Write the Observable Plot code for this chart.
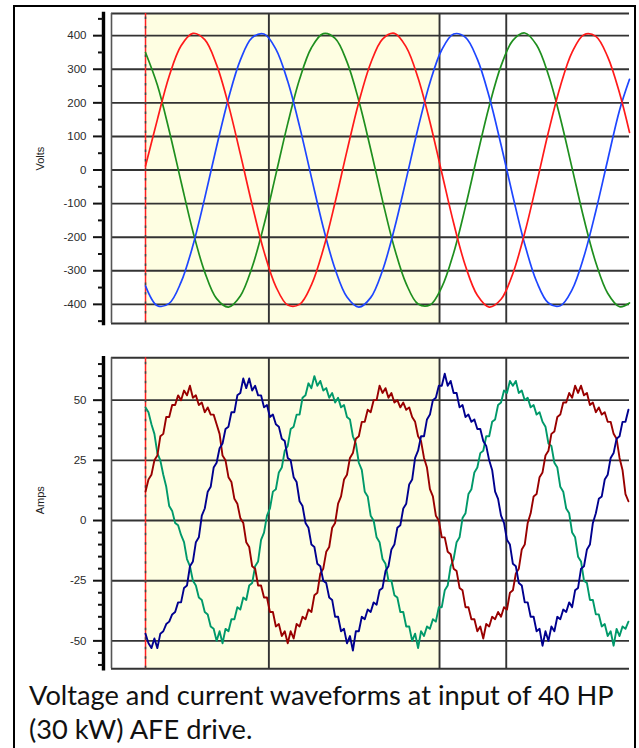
<!DOCTYPE html>
<html>
<head>
<meta charset="utf-8">
<script src="https://cdn.jsdelivr.net/npm/d3@7"></script>
<script src="https://cdn.jsdelivr.net/npm/@observablehq/plot@0.6"></script>
<style>
html, body { margin: 0; padding: 0; background: #fff; }
#wrap { position: relative; width: 639px; height: 748px; overflow: hidden; background: #fff; }
#border { position: absolute; left: 13px; top: 5px; width: 619px; height: 800px; border: 2px solid #000; }
#top { position: absolute; left: 0; top: 0; }
#bot { position: absolute; left: 0; top: 340px; }
#cap { position: absolute; left: 0; top: 670px; }
</style>
</head>
<body>
<div id="wrap">
  <div id="border"></div>
  <div id="top"></div>
  <div id="bot"></div>
  <svg id="cap" width="639" height="78"></svg>
</div>
<script>
// ---------- DATA ----------
// time in ms, 0 = cursor position
const xDomain = [-2.87, 40.84];
const shadedSpan = [0, 24.81];            // cream-coloured region
const cursorTime = [0];
const verticalGrid = [10.41, 24.81, 30.44];

// Voltage panel
const voltDomain = [-457, 466];
const voltMajorTicks = [-400, -300, -200, -100, 0, 100, 200, 300, 400];
const voltMinorTicks = [-450, -350, -250, -150, -50, 50, 150, 250, 350, 450];
const voltGrid = [-400, -300, -200, -100, 0, 100, 200, 300, 400];

const tV = [0,1,2,3,4,5,6,7,8,9,10,11,12,13,14,15,16,17,18,19,20,21,22,23,24,25,26,27,28,29,30,31,32,33,34,35,36,37,38,39,40,40.84];
const voltRed   = [12,150,280,370,407,388,313,194,48,-104,-243,-347,-402,-400,-342,-236,-96,57,202,318,390,407,366,274,143,-8,-158,-286,-373,-408,-385,-308,-187,-40,113,249,351,403,398,337,229,112];
const voltBlue  = [-345,-404,-397,-334,-225,-83,70,213,327,394,405,360,264,130,-22,-171,-295,-378,-408,-380,-299,-175,-27,125,260,358,405,395,330,218,75,-78,-221,-332,-396,-404,-356,-257,-122,30,178,270];
const voltGreen = [350,253,117,-35,-183,-304,-383,-408,-375,-289,-163,-13,138,270,364,406,392,322,206,62,-91,-232,-339,-399,-402,-349,-247,-109,44,190,310,386,408,372,283,155,5,-146,-276,-367,-407,-396];

// Current panel
const ampDomain = [-61.6, 67.6];
const ampMajorTicks = [-50, -25, 0, 25, 50];
const ampMinorTicks = [-60,-55,-45,-40,-35,-30,-20,-15,-10,-5,5,10,15,20,30,35,40,45,55,60,65];
const ampGrid = [-50, -25, 0, 25, 50];

const tI = [0,0.25,0.5,0.75,1,1.25,1.5,1.75,2,2.25,2.5,2.75,3,3.25,3.5,3.75,4,4.25,4.5,4.75,5,5.25,5.5,5.75,6,6.25,6.5,6.75,7,7.25,7.5,7.75,8,8.25,8.5,8.75,9,9.25,9.5,9.75,10,10.25,10.5,10.75,11,11.25,11.5,11.75,12,12.25,12.5,12.75,13,13.25,13.5,13.75,14,14.25,14.5,14.75,15,15.25,15.5,15.75,16,16.25,16.5,16.75,17,17.25,17.5,17.75,18,18.25,18.5,18.75,19,19.25,19.5,19.75,20,20.25,20.5,20.75,21,21.25,21.5,21.75,22,22.25,22.5,22.75,23,23.25,23.5,23.75,24,24.25,24.5,24.75,25,25.25,25.5,25.75,26,26.25,26.5,26.75,27,27.25,27.5,27.75,28,28.25,28.5,28.75,29,29.25,29.5,29.75,30,30.25,30.5,30.75,31,31.25,31.5,31.75,32,32.25,32.5,32.75,33,33.25,33.5,33.75,34,34.25,34.5,34.75,35,35.25,35.5,35.75,36,36.25,36.5,36.75,37,37.25,37.5,37.75,38,38.25,38.5,38.75,39,39.25,39.5,39.75,40,40.25,40.5,40.75];
const ampRed = [12,17,19,25, 27,35,36,43, 43,48,48,52, 50,54,52,56, 51,52,48,49, 45,47,44,44, 40,36,27,25, 18,16,9,7, 1,-1,-9,-11, -19,-20,-27,-27, -32,-32,-38,-38, -44,-43,-48,-46, -51,-46,-49,-43, -44,-40,-41,-37, -38,-31,-30,-22, -20,-13,-11,-3, -1,7,10,17, 19,26,28,34, 35,41,41,46, 45,50,50,56, 53,55,51,53, 49,50,47,49, 46,47,43,41, 35,33,26,22, 13,10,2,0, -7,-7,-13,-14, -20,-21,-28,-29, -36,-36,-41,-41, -46,-44,-49,-43, -44,-40,-41,-38, -40,-36,-37,-30, -29,-22,-20,-12, -10,-1,3,10, 11,18,20,27, 29,36,37,43, 44,49,49,53, 51,56,53,56, 52,53,48,49, 45,47,44,45, 41,41,36,34, 26,21,11,8];
const ampBlue = [-47,-51,-53,-49, -53,-47,-46,-43, -42,-39,-38,-34, -34,-28,-27,-19, -17,-9,-7,2, 5,12,14,22, 24,30,32,38, 39,45,45,52, 53,59,55,59, 54,56,52,52, 47,48,43,44, 40,39,34,33, 26,25,18,16, 8,6,-1,-3, -10,-11,-18,-19, -25,-26,-32,-33, -40,-40,-46,-45, -51,-48,-54,-46, -46,-40,-41,-37, -38,-34,-35,-29, -28,-21,-19,-12, -10,-3,-2,5, 7,15,17,26, 29,35,35,42, 44,50,51,56, 56,61,56,58, 53,53,47,48, 43,44,41,42, 38,38,33,31, 25,21,12,9, 2,-1,-8,-10, -18,-19,-26,-27, -34,-34,-40,-40, -46,-45,-52,-46, -50,-44,-46,-40, -41,-37,-38,-34, -36,-29,-28,-20, -19,-12,-10,-1, 3,9,10,17, 19,26,28,34, 35,41,41,46];
const ampGreen = [47,45,40,36, 28,25,19,14, 6,4,-1,-2, -6,-9,-16,-19, -25,-27,-32,-33, -38,-39,-44,-45, -50,-46,-51,-45, -46,-41,-41,-36, -37,-32,-33,-27, -26,-19,-17,-8, -5,2,5,12, 13,20,22,29, 31,38,39,44, 44,51,52,57, 55,60,56,58, 54,55,51,53, 49,51,47,48, 43,42,35,32, 24,21,12,10, 2,0,-7,-9, -16,-18,-25,-25, -31,-32,-38,-38, -44,-44,-50,-47, -53,-46,-48,-44, -45,-41,-42,-36, -36,-29,-27,-19, -16,-9,-7,1, 3,11,13,20, 22,28,29,35, 35,41,42,48, 49,54,53,58, 56,58,53,54, 50,51,47,48, 44,45,41,39, 32,31,24,22, 14,12,5,3, -5,-7,-15,-17, -25,-26,-33,-33, -39,-39,-44,-43, -48,-46,-52,-45, -48,-44,-45,-42];

const captionLines = ["Voltage and current waveforms at input of 40 HP", "(30 kW) AFE drive."];

// ---------- DRAWING ----------
const gridColor = "#333";

function panel({height, marginTop, marginBottom, yDomain, majorTicks, minorTicks, hGrid, series, label, labelDy}) {
  return Plot.plot({
    width: 639,
    height,
    marginLeft: 103,
    insetLeft: 8,
    marginRight: 10,
    marginTop,
    marginBottom,
    x: {domain: xDomain, axis: null},
    y: {domain: yDomain},
    style: {fontFamily: "'Liberation Sans', Arial, sans-serif", fontSize: "11.5px", color: "#111", background: "transparent", overflow: "visible"},
    marks: [
      Plot.rect([shadedSpan], {x1: d => d[0], x2: d => d[1], y1: () => yDomain[0], y2: () => yDomain[1], fill: "#fefee2"}),
      Plot.ruleY(hGrid, {y: d => d, x1: () => xDomain[0], x2: () => xDomain[1], stroke: gridColor, strokeWidth: 1.9}),
      Plot.ruleX(verticalGrid, {x: d => d, y1: () => yDomain[0], y2: () => yDomain[1], stroke: gridColor, strokeWidth: 1.9}),
      // plot border (top, bottom, left)
      Plot.ruleY([yDomain[0], yDomain[1]], {y: d => d, x1: () => xDomain[0], x2: () => xDomain[1], stroke: gridColor, strokeWidth: 1.9}),
      Plot.ruleX([xDomain[0]], {x: d => d, y1: () => yDomain[0], y2: () => yDomain[1], stroke: "#555", strokeWidth: 1.6}),
      // cursor
      Plot.ruleX(cursorTime, {x: d => d, y1: () => yDomain[0], y2: () => yDomain[1], stroke: "#ff2020", strokeWidth: 1.5}),
      Plot.ruleX(cursorTime, {x: d => d, y1: () => yDomain[0], y2: () => yDomain[1], stroke: "#3a4a4a", strokeWidth: 1.5, strokeDasharray: "2.5,7"}),
      ...series.map(s => Plot.line(s.t, {x: s.t, y: s.v, stroke: s.color, strokeWidth: s.width, curve: s.curve})),
      // axis
      Plot.frame({anchor: "left", stroke: "#000", strokeWidth: 3.4}),
      Plot.axisY({ticks: minorTicks, tickSize: 5, tickFormat: () => "", strokeWidth: 2}),
      Plot.axisY({ticks: majorTicks, tickSize: 10, tickPadding: 7, strokeWidth: 2, tickFormat: d => String(d), fill: "#2a2a2a"}),
      Plot.text([label], {text: d => d, frameAnchor: "left", dx: -63, dy: labelDy, rotate: -90, fontSize: 11, fill: "#222"})
    ]
  });
}

document.getElementById("top").append(panel({
  height: 336, marginTop: 13, marginBottom: 13,
  yDomain: voltDomain, majorTicks: voltMajorTicks, minorTicks: voltMinorTicks, hGrid: voltGrid,
  label: "Volts", labelDy: 2,
  series: [
    {t: tV, v: voltGreen, color: "#1f8f1f", width: 1.7, curve: "catmull-rom"},
    {t: tV, v: voltBlue, color: "#1e46ff", width: 1.7, curve: "catmull-rom"},
    {t: tV, v: voltRed, color: "#ff1a1a", width: 1.7, curve: "catmull-rom"}
  ]
}));

document.getElementById("bot").append(panel({
  height: 340, marginTop: 17.3, marginBottom: 11.7,
  yDomain: ampDomain, majorTicks: ampMajorTicks, minorTicks: ampMinorTicks, hGrid: ampGrid,
  label: "Amps", labelDy: 1,
  series: [
    {t: tI, v: ampGreen, color: "#00996a", width: 1.9, curve: "linear"},
    {t: tI, v: ampRed, color: "#990000", width: 1.9, curve: "linear"},
    {t: tI, v: ampBlue, color: "#00008f", width: 1.9, curve: "linear"}
  ]
}));

// caption, sized so that the first line spans the same width as in the picture
(function () {
  const family = "Lato, 'Open Sans', sans-serif";
  const ctx = document.createElement("canvas").getContext("2d");
  ctx.font = `100px ${family}`;
  const w = ctx.measureText(captionLines[0]).width;
  const size = 100 * 586 / w;
  const svg = d3.select("#cap");
  svg.selectAll("text").data(captionLines).join("text")
    .attr("x", 29)
    .attr("y", (d, i) => 35 + i * 33.5)
    .attr("font-family", family)
    .attr("font-size", size)
    .attr("fill", "#111")
    .text(d => d);
})();
</script>
</body>
</html>
